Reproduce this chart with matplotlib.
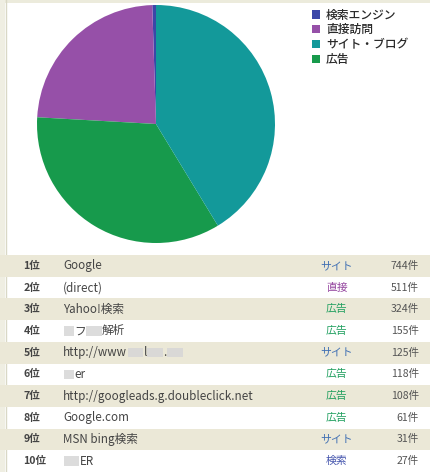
import matplotlib
matplotlib.use('Agg')
import matplotlib.pyplot as plt
from matplotlib.patches import Rectangle, Patch

plt.rcParams['font.family'] = ['Noto Sans CJK JP', 'DejaVu Sans']

# ---- data ----
legend_labels = ['検索エンジン', '直接訪問', 'サイト・ブログ', '広告']
pie_shares = [0.5, 23.6, 41.3, 34.6]
pie_colors = ['#3b47a8', '#9650a8', '#13999a', '#179a4c']

ranks = ['1位', '2位', '3位', '4位', '5位', '6位', '7位', '8位', '9位', '10位']
names = ['Google', '(direct)', 'Yahoo!検索', '▒▒フ▒▒▒解析', 'http://www▒▒▒l▒▒▒.▒▒▒',
         '▒▒er', 'http://googleads.g.doubleclick.net', 'Google.com', 'MSN bing検索', '▒▒▒ER']
types = ['サイト', '直接', '広告', '広告', 'サイト', '広告', '広告', '広告', 'サイト', '検索']
counts = [744, 511, 324, 155, 125, 118, 108, 61, 31, 27]
type_colors = {'サイト': '#3f6fb3', '直接': '#94459f', '広告': '#22a060', '検索': '#4656ae'}

W, H = 430, 472
fig = plt.figure(figsize=(W / 100, H / 100), dpi=100)
fig.patch.set_facecolor('white')

# background frame
bg = fig.add_axes([0, 0, 1, 1])
bg.set_xlim(0, W); bg.set_ylim(H, 0); bg.axis('off')
bg.add_patch(Rectangle((0, 0), W, 3, color='#ecebdc', lw=0))
bg.add_patch(Rectangle((0, 0), 5, H, color='#efeee2', lw=0))
bg.axvline(5.5, color='#d9d8c6', lw=1)

# pie
cx, cy, r = 156, 124, 119
pax = fig.add_axes([(cx - r) / W, (H - cy - r) / H, 2 * r / W, 2 * r / H])
order = [0, 1, 3, 2]
pax.pie([pie_shares[i] for i in order], colors=[pie_colors[i] for i in order],
        startangle=90, counterclock=True, radius=1, wedgeprops=dict(linewidth=0))
pax.set_xlim(-1, 1); pax.set_ylim(-1, 1); pax.axis('off')

# legend
handles = [Patch(facecolor=c, edgecolor='none') for c in pie_colors]
fig.legend(handles, legend_labels, loc='upper left', bbox_to_anchor=(312 / W, 1 - 8.5 / H),
           frameon=False, handlelength=0.7, handleheight=0.7,
           handletextpad=0.5, labelspacing=0.15, borderpad=0, borderaxespad=0,
           labelcolor='#2a2a2a', prop={'weight': 'medium', 'size': 8.5})

# table
top = 255
tax = fig.add_axes([0, 0, 1, (H - top) / H])
tax.set_xlim(0, W); tax.set_ylim(len(ranks) - 0.5, -0.5); tax.axis('off')
for i in range(len(ranks)):
    if i % 2 == 0:
        tax.axhspan(i - 0.5, i + 0.5, color='#ebe8d7', lw=0)

renderer = fig.canvas.get_renderer()


def draw_name(ax, x, y, s):
    runs = []
    for ch in s:
        blur = ch == '▒'
        if runs and runs[-1][1] == blur:
            runs[-1][0] += ch
        else:
            runs.append([ch, blur])
    for txt, blur in runs:
        if blur:
            w = 5.5 * len(txt)
            ax.add_patch(Rectangle((x + 0.5, y - 0.22), w - 1, 0.44, color='#d6d6d6', lw=0, alpha=0.85))
            x += w
        else:
            t = ax.text(x, y, txt, fontsize=8.4, color='#444444', va='center', ha='left')
            x += t.get_window_extent(renderer).width


for i, (rk, nm, tp, ct) in enumerate(zip(ranks, names, types, counts)):
    tax.text(23.5, i, rk, fontsize=7.6, color='#444444', fontweight='bold', va='center', ha='left')
    draw_name(tax, 63, i, nm)
    tax.text(337, i, tp, fontsize=7.8, color=type_colors[tp], va='center', ha='center')
    tax.text(419, i, f'{ct}件', fontsize=7.6, color='#555555', va='center', ha='right')

fig.savefig('out.png', dpi=100, facecolor='white')
